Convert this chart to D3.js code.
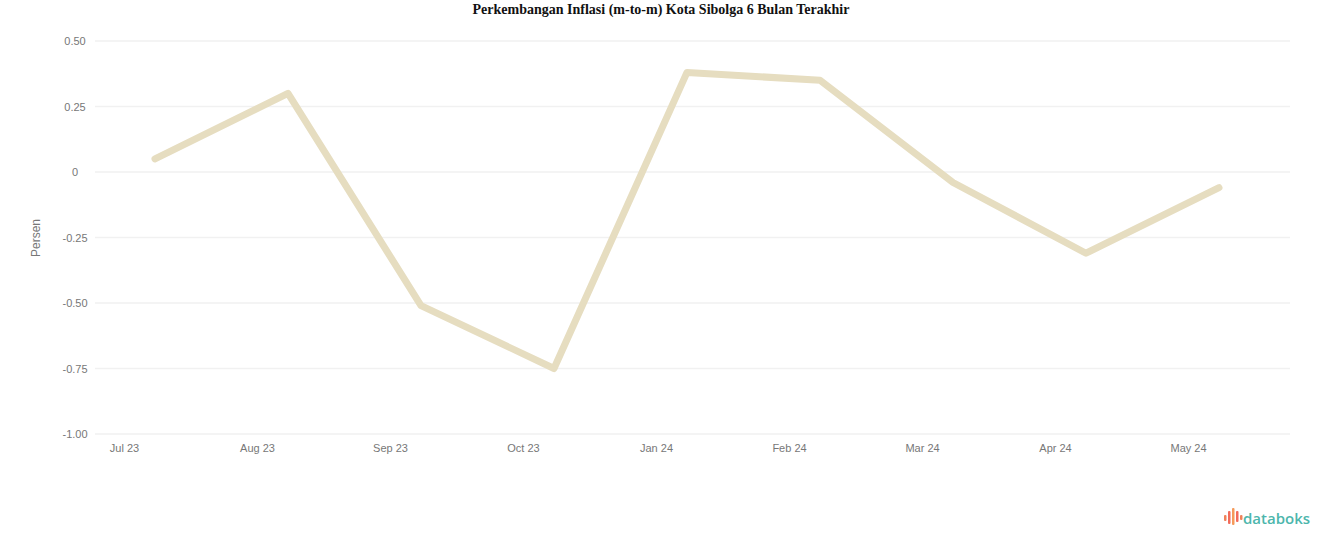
<!DOCTYPE html>
<html><head><meta charset="utf-8">
<script src="https://cdn.jsdelivr.net/npm/d3@7"></script>
<style>
body{margin:0;background:#fff;}
svg{display:block;}
</style></head>
<body>
<svg id="chart" width="1324" height="547"></svg>
<script>
const categories = ["Jul 23","Aug 23","Sep 23","Oct 23","Jan 24","Feb 24","Mar 24","Apr 24","May 24"];
const values = [0.05, 0.30, -0.51, -0.75, 0.38, 0.35, -0.04, -0.31, -0.06];
const yTicks = [0.5, 0.25, 0, -0.25, -0.5, -0.75, -1.0];
const yTickLabels = ["0.50","0.25","0","-0.25","-0.50","-0.75","-1.00"];
const titleText = "Perkembangan Inflasi (m-to-m) Kota Sibolga 6 Bulan Terakhir";
const yTitle = "Persen";

const svg = d3.select("#chart");

svg.append("text").attr("x", 661).attr("y", 14).attr("text-anchor","middle")
  .style("font-family","'Liberation Serif', 'Times New Roman', serif").style("font-weight","bold")
  .style("font-size","14px").attr("fill","#111").text(titleText);

const x = d3.scalePoint().domain(categories).range([155, 1219]);
const y = d3.scaleLinear().domain([-1.0, 0.5]).range([434, 41]);

// gridlines
svg.append("g").selectAll("line").data(yTicks).join("line")
  .attr("x1", 95).attr("x2", 1290)
  .attr("y1", d => y(d)).attr("y2", d => y(d))
  .attr("stroke", "#f1f1f1").attr("stroke-width", 1.5);

// y axis
const yAxis = d3.axisLeft(y).tickValues(yTicks).tickSize(0).tickPadding(0)
  .tickFormat((d,i) => yTickLabels[i]);
const gy = svg.append("g").attr("transform","translate(75,0)").call(yAxis);
gy.select(".domain").remove();
gy.selectAll("text").attr("text-anchor","middle")
  .style("font-family","'Liberation Sans', Arial, sans-serif")
  .style("font-size","11px").attr("fill","#777");

svg.append("text").attr("transform","translate(40,238) rotate(-90)")
  .attr("text-anchor","middle").style("font-family","'Liberation Sans', Arial, sans-serif")
  .style("font-size","12px").attr("fill","#777").text(yTitle);

// x axis
const xAxis = d3.axisBottom(x).tickSize(0).tickPadding(0);
const gx = svg.append("g").attr("transform","translate(0,444)").call(xAxis);
gx.select(".domain").remove();
gx.selectAll("text").attr("dx", -31).attr("dy", "0.7em")
  .style("font-family","'Liberation Sans', Arial, sans-serif")
  .style("font-size","11px").attr("fill","#777");

// line
const line = d3.line().x((d,i) => x(categories[i])).y(d => y(d));
svg.append("path").datum(values).attr("d", line)
  .attr("fill","none").attr("stroke","#e6ddc0").attr("stroke-width",7)
  .attr("stroke-linejoin","round").attr("stroke-linecap","round");

// logo
const logo = svg.append("g").attr("transform","translate(1224,508)");
const bars = [[0,7,6,"#f0825a"],[4,3,13,"#f26b5b"],[8,0,17,"#f59a5a"],[12,3,11,"#f26b5b"],[16,7,5,"#f0825a"]];
logo.selectAll("rect").data(bars).join("rect")
  .attr("x", d => d[0]).attr("y", d => d[1]).attr("width", 2.5).attr("height", d => d[2])
  .attr("fill", d => d[3]).attr("rx", 1);
svg.append("text").attr("x", 1243).attr("y", 524)
  .style("font-family","'Open Sans', 'DejaVu Sans', sans-serif").style("font-weight","600")
  .style("font-size","15px").attr("fill","#4db6ac").text("databoks");
</script>
</body></html>
